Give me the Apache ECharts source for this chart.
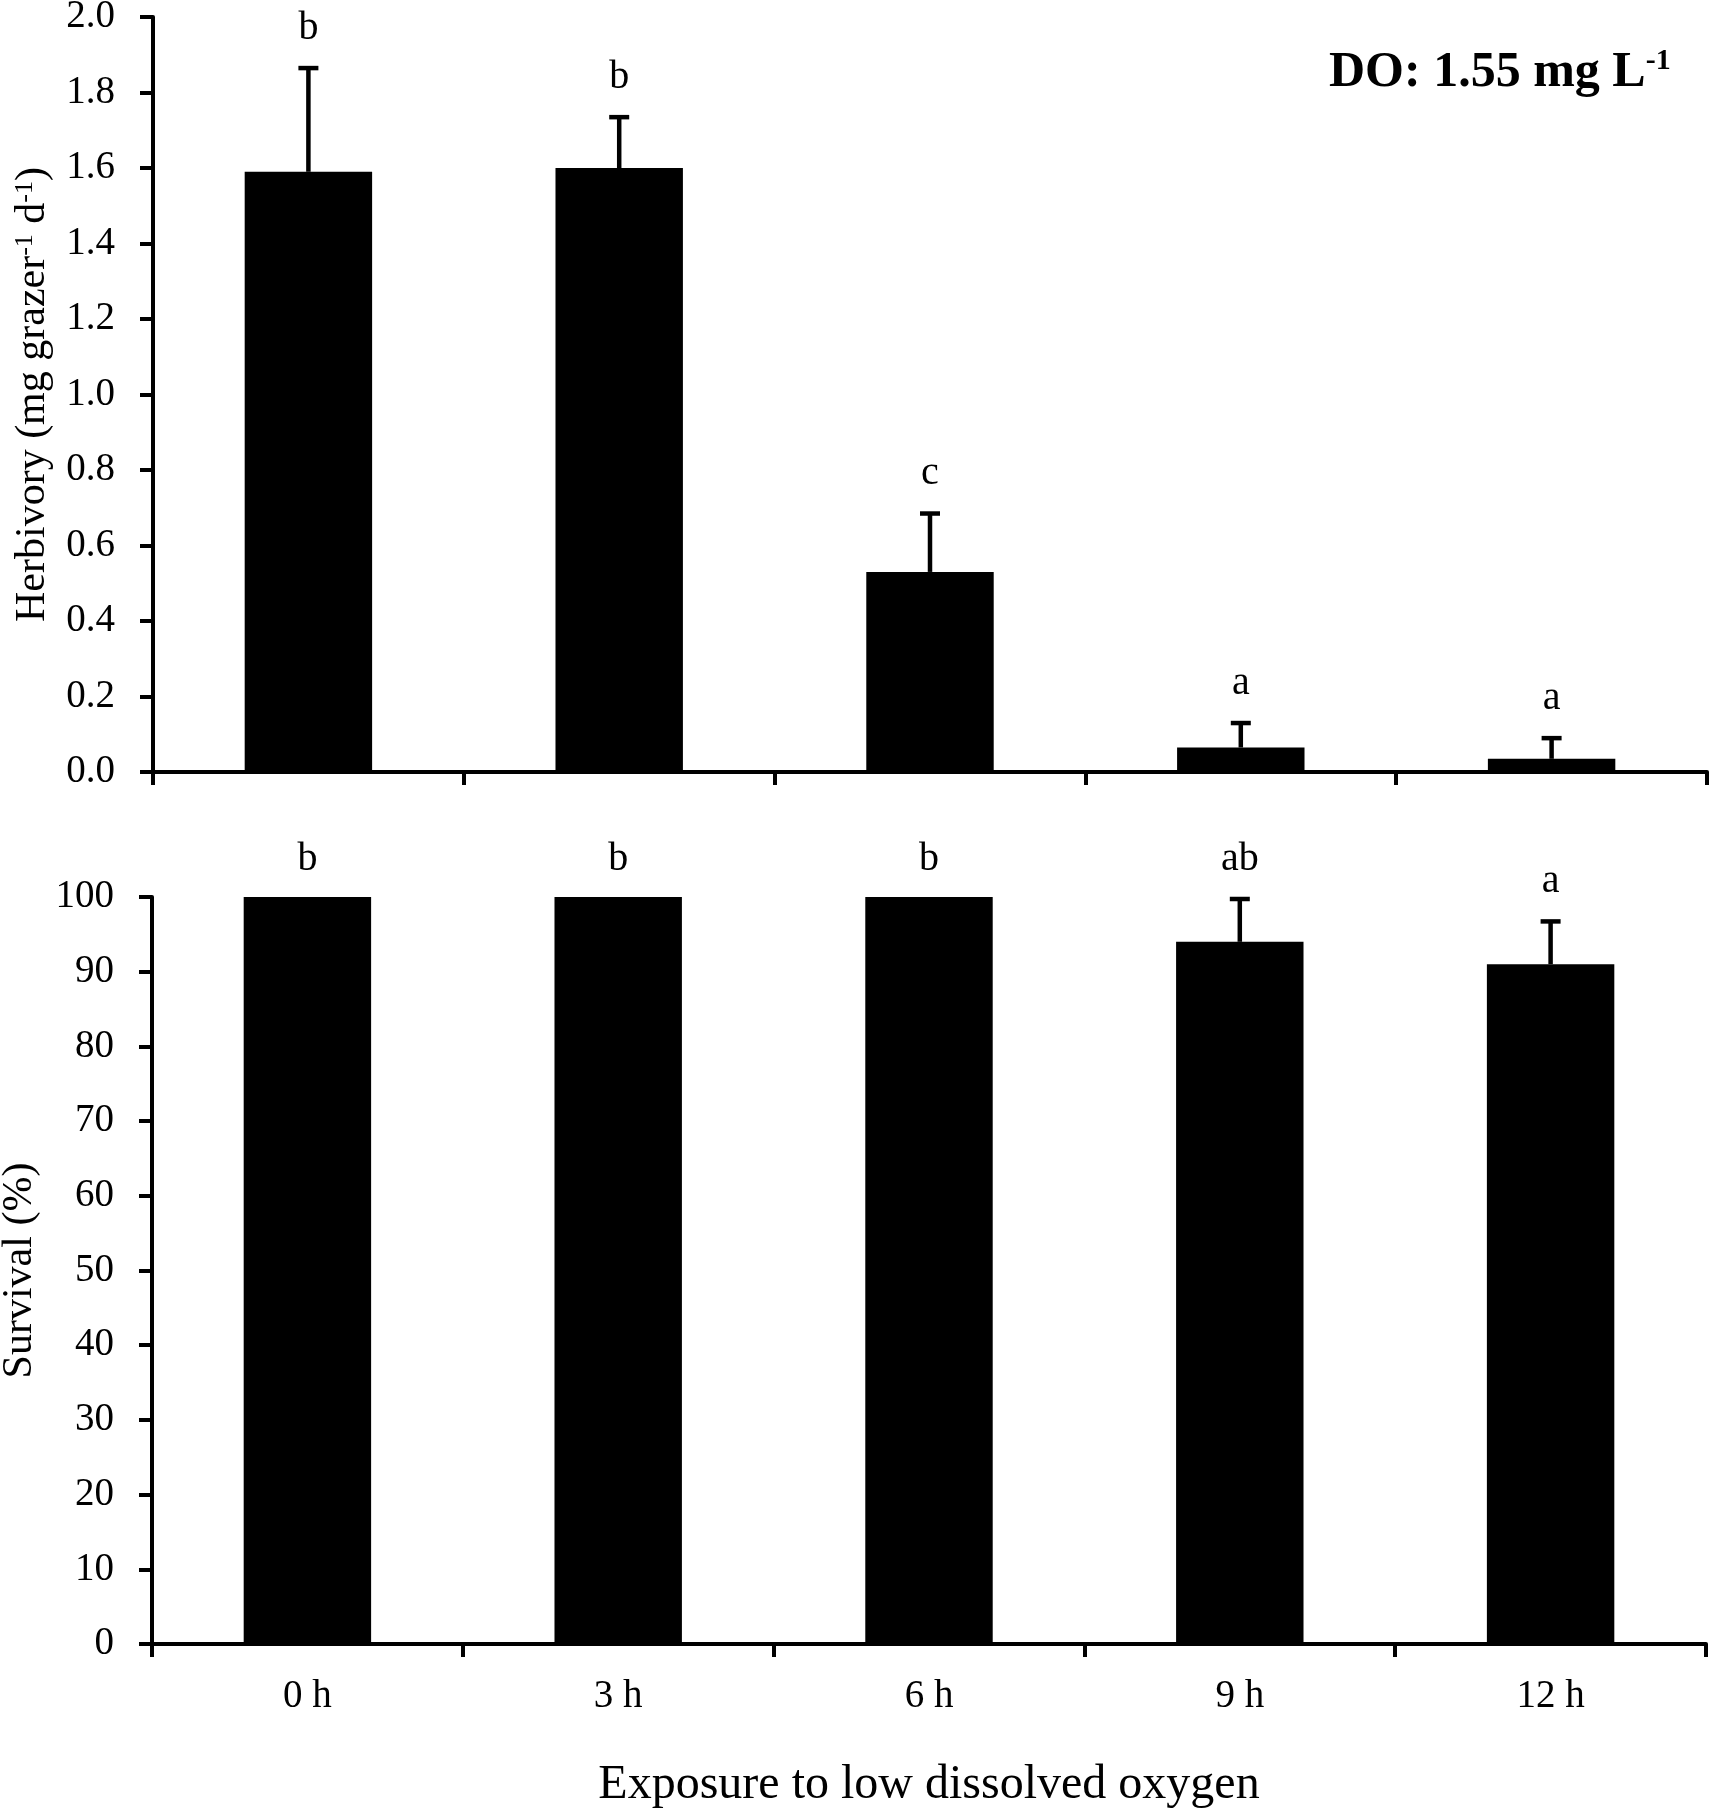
<!DOCTYPE html>
<html>
<head>
<meta charset="utf-8">
<script src="https://cdn.jsdelivr.net/npm/echarts@6/dist/echarts.min.js"></script>
<style>
html,body{margin:0;padding:0;background:#fff;}
#chart{width:1712px;height:1812px;}
</style>
</head>
<body>
<div id="chart"></div>
<script>
const categories = ['0 h', '3 h', '6 h', '9 h', '12 h'];
const herbivory = [1.59, 1.60, 0.53, 0.065, 0.035];
const herbivoryErr = [0.28, 0.14, 0.16, 0.07, 0.06];
const herbivoryLetters = ['b', 'b', 'c', 'a', 'a'];
const survival = [100, 100, 100, 94, 91];
const survivalErr = [0, 0, 0, 6, 6];
const survivalLetters = ['b', 'b', 'b', 'ab', 'a'];
const herbivoryTicks = { min: 0, max: 2, interval: 0.2 };
const survivalTicks = { min: 0, max: 100, interval: 10 };

const FONT = '"Liberation Serif", "Times New Roman", serif';

function errSeries(vals, errs, letters, xi, yi) {
  return {
    type: 'custom',
    xAxisIndex: xi, yAxisIndex: yi,
    z: 5,
    encode: { x: 0, y: 1 },
    data: vals.map((v, i) => [i, v, errs[i]]),
    renderItem: function (params, api) {
      const x = api.value(0), v = api.value(1), e = api.value(2);
      const base = api.coord([x, v]);
      const top = api.coord([x, v + e]);
      const children = [];
      if (e > 0) {
        children.push({ type: 'line', shape: { x1: base[0], y1: base[1], x2: top[0], y2: top[1] + 2 }, style: { stroke: '#000', lineWidth: 4.5 } });
        children.push({ type: 'line', shape: { x1: top[0] - 10, y1: top[1] + 2, x2: top[0] + 10, y2: top[1] + 2 }, style: { stroke: '#000', lineWidth: 4.5 } });
      }
      children.push({
        type: 'text', x: top[0], y: top[1] - 38,
        style: { text: letters[params.dataIndex], fill: '#000', font: '40px ' + FONT, align: 'center', verticalAlign: 'middle' }
      });
      return { type: 'group', children: children };
    }
  };
}

const axisLineStyle = { show: true, lineStyle: { color: '#000', width: 4 } };
const axisTickStyle = { show: true, inside: false, length: 13, lineStyle: { color: '#000', width: 4 } };

const chart = echarts.init(document.getElementById('chart'));
chart.setOption({
  animation: false,
  backgroundColor: '#fff',
  textStyle: { fontFamily: FONT, color: '#000' },
  title: {
    left: 1324, top: 41,
    text: '{m|DO: 1.55 mg L}{s|-1}',
    textStyle: {
      rich: {
        m: { fontFamily: FONT, fontWeight: 'bold', fontSize: 50, color: '#000', lineHeight: 52, verticalAlign: 'bottom' },
        s: { fontFamily: FONT, fontWeight: 'bold', fontSize: 30, color: '#000', lineHeight: 30, verticalAlign: 'top' }
      }
    }
  },
  grid: [
    { left: 153, right: 5, top: 17, height: 755, outerBoundsMode: 'none', containLabel: false },
    { left: 152, right: 6, top: 897, height: 747, outerBoundsMode: 'none', containLabel: false }
  ],
  xAxis: [
    {
      type: 'category', gridIndex: 0, data: categories,
      axisLine: axisLineStyle, axisTick: axisTickStyle,
      axisLabel: { show: false }, splitLine: { show: false }
    },
    {
      type: 'category', gridIndex: 1, data: categories,
      axisLine: axisLineStyle, axisTick: axisTickStyle,
      axisLabel: { show: true, margin: 33, fontSize: 39, fontFamily: FONT, color: '#000' },
      splitLine: { show: false },
      name: 'Exposure to low dissolved oxygen', nameLocation: 'middle', nameGap: 117,
      nameTextStyle: { fontSize: 48, fontFamily: FONT, color: '#000' }
    }
  ],
  yAxis: [
    {
      type: 'value', gridIndex: 0,
      min: herbivoryTicks.min, max: herbivoryTicks.max, interval: herbivoryTicks.interval,
      axisLine: axisLineStyle, axisTick: axisTickStyle,
      axisLabel: { margin: 38, fontSize: 39, fontFamily: FONT, color: '#000', formatter: v => v.toFixed(1) },
      splitLine: { show: false },
      name: '{t|Herbivory (mg grazer}{s|-1}{t| d}{s|-1}{t|)}', nameLocation: 'middle', nameGap: 99,
      nameTextStyle: {
        rich: {
          t: { fontSize: 42, fontFamily: FONT, color: '#000', lineHeight: 42, verticalAlign: 'bottom' },
          s: { fontSize: 26, fontFamily: FONT, color: '#000', lineHeight: 26, verticalAlign: 'top' }
        }
      }
    },
    {
      type: 'value', gridIndex: 1,
      min: survivalTicks.min, max: survivalTicks.max, interval: survivalTicks.interval,
      axisLine: axisLineStyle, axisTick: axisTickStyle,
      axisLabel: { margin: 38, fontSize: 39, fontFamily: FONT, color: '#000' },
      splitLine: { show: false },
      name: 'Survival (%)', nameLocation: 'middle', nameGap: 111,
      nameTextStyle: { fontSize: 42, fontFamily: FONT, color: '#000' }
    }
  ],
  series: [
    { type: 'bar', xAxisIndex: 0, yAxisIndex: 0, data: herbivory, barWidth: '41%', itemStyle: { color: '#000' } },
    errSeries(herbivory, herbivoryErr, herbivoryLetters, 0, 0),
    { type: 'bar', xAxisIndex: 1, yAxisIndex: 1, data: survival, barWidth: '41%', itemStyle: { color: '#000' } },
    errSeries(survival, survivalErr, survivalLetters, 1, 1)
  ]
});
</script>
</body>
</html>
